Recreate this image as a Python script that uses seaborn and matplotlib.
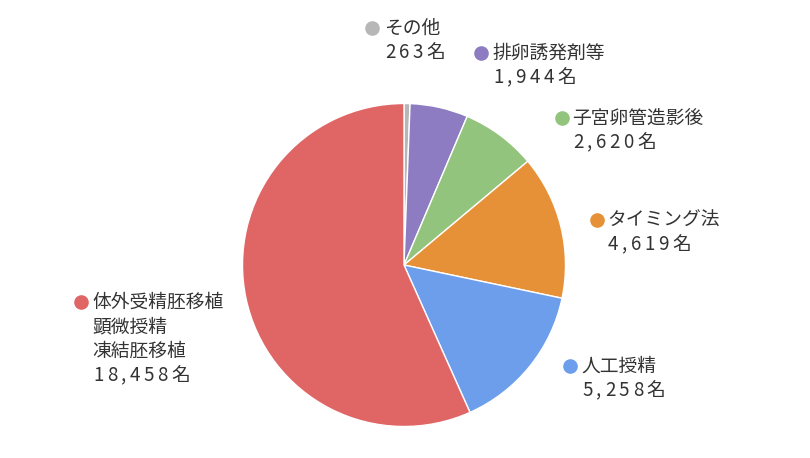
import matplotlib
matplotlib.use("Agg")
import matplotlib.pyplot as plt
import seaborn as sns
from matplotlib.lines import Line2D

categories = ["その他", "排卵誘発剤等", "子宮卵管造影後", "タイミング法", "人工授精",
              "体外受精胚移植\n顕微授精\n凍結胚移植"]
# counts shown in the labels
values = [263, 1944, 2620, 4619, 5258, 18458]
value_labels = ["263名", "1,944名", "2,620名", "4,619名", "5,258名", "18,458名"]
# slice shares (%)
slice_shares = [0.6, 5.8, 7.5, 14.4, 15.0, 56.7]
colors = ["#B7B7B7", "#8E7CC3", "#93C47D", "#E69138", "#6D9EEB", "#E06666"]

sns.set_theme(style="white")
plt.rcParams['font.family'] = ['Noto Sans CJK JP', 'DejaVu Sans']

W, H = 810, 458
fig = plt.figure(figsize=(W / 100, H / 100), dpi=100)
fig.patch.set_facecolor("white")

cx, cy, r = 404, 265, 161.5
ax = fig.add_axes([(cx - r) / W, (H - cy - r) / H, 2 * r / W, 2 * r / H])
ax.pie(slice_shares, colors=sns.color_palette(colors), startangle=90, counterclock=False,
       radius=1.0, wedgeprops=dict(edgecolor="white", linewidth=1.0))
ax.set_xlim(-1, 1)
ax.set_ylim(-1, 1)
ax.set_aspect("equal")
ax.axis("off")

# label anchor positions (pixels): dot x, first line y, text x
label_pos = [
    (372, 28, 384),
    (481, 53, 492),
    (562, 118, 572),
    (597, 220, 607),
    (570, 366, 581),
    (81, 302, 92),
]
line_h = 24.5
txt_color = "#333333"
fs = 13.5
spacing = 3.5  # letter spacing in px for the count lines

renderer = fig.canvas.get_renderer()


def spaced_text(x, y, s):
    """Draw string s starting at pixel x with extra letter spacing."""
    for ch in s:
        t = fig.text(x / W, 1 - y / H, ch, fontsize=fs, color=txt_color,
                     ha="left", va="center")
        bb = t.get_window_extent(renderer=renderer)
        x += bb.width + spacing


for cat, vl, col, (dx, ly, tx) in zip(categories, value_labels, colors, label_pos):
    fig.add_artist(Line2D([dx / W], [1 - ly / H], marker="o", markersize=9.5,
                          markerfacecolor=col, markeredgecolor=col, linestyle="none",
                          transform=fig.transFigure))
    lines = cat.split("\n")
    for i, ln in enumerate(lines):
        fig.text(tx / W, 1 - (ly + i * line_h) / H, ln, fontsize=fs,
                 color=txt_color, ha="left", va="center")
    spaced_text(tx + 1, ly + len(lines) * line_h, vl)

fig.savefig("out.png", dpi=100, facecolor="white")
